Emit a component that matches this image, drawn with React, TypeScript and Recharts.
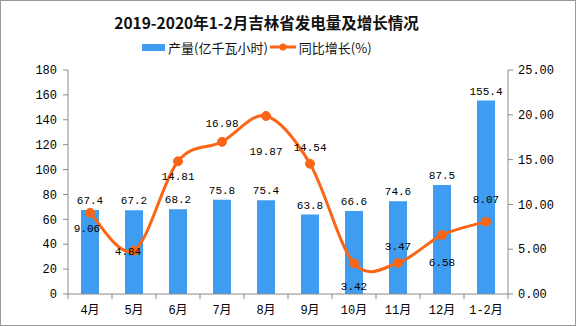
import React from "react";
import { ComposedChart, Bar, Line, XAxis, YAxis, LabelList } from "recharts";

const categories = ["4月", "5月", "6月", "7月", "8月", "9月", "10月", "11月", "12月", "1-2月"];
const output = [67.4, 67.2, 68.2, 75.8, 75.4, 63.8, 66.6, 74.6, 87.5, 155.4];
const growth = [9.06, 4.84, 14.81, 16.98, 19.87, 14.54, 3.42, 3.47, 6.58, 8.07];
const leftTicks = [0, 20, 40, 60, 80, 100, 120, 140, 160, 180];
const rightTicks = [0, 5, 10, 15, 20, 25];

const data = categories.map((c, i) => ({ name: c, output: output[i], growth: growth[i] }));

// label offsets (dx, dy) relative to each line point, in pixels
const growthLabelOffset: number[][] = [
  [-3, 16],
  [-6, 1],
  [0, 16],
  [0, -18],
  [0, 36],
  [0, -16],
  [0, 24],
  [0, -16],
  [0, 28],
  [0, -22],
];

const BAR = "#3e9df0";
const LINE = "#fb6516";
const AXIS = "#8a8a8a";
const NUMFONT = "'Liberation Mono', 'Noto Sans CJK SC', monospace";
const CJK = "'Noto Sans CJK SC', sans-serif";

// Cardinal (Catmull-Rom style) curve factory for a smooth line through points
const cardinalCurve = (context: any) => {
  let pts: number[][] = [];
  const k = 1 / 6;
  return {
    areaStart() {},
    areaEnd() {},
    lineStart() {
      pts = [];
    },
    point(x: number, y: number) {
      pts.push([+x, +y]);
    },
    lineEnd() {
      const n = pts.length;
      if (!n) return;
      context.moveTo(pts[0][0], pts[0][1]);
      for (let i = 0; i < n - 1; i++) {
        const p0 = pts[i - 1] || pts[i];
        const p1 = pts[i];
        const p2 = pts[i + 1];
        const p3 = pts[i + 2] || p2;
        context.bezierCurveTo(
          p1[0] + k * (p2[0] - p0[0]),
          p1[1] + k * (p2[1] - p0[1]),
          p2[0] - k * (p3[0] - p1[0]),
          p2[1] - k * (p3[1] - p1[1]),
          p2[0],
          p2[1]
        );
      }
    },
  };
};

const XTick = (props: any) => {
  const { x, y, payload, index } = props;
  const half = 22;
  return (
    <g>
      <line x1={x - half} y1={y - 8} x2={x - half} y2={y - 3} stroke={AXIS} />
      {index === categories.length - 1 && (
        <line x1={x + half} y1={y - 8} x2={x + half} y2={y - 3} stroke={AXIS} />
      )}
      <text x={x} y={y + 12} textAnchor="middle" fontSize={12} fontFamily={NUMFONT} fill="#000">
        {payload.value}
      </text>
    </g>
  );
};

const GrowthLabel = (props: any) => {
  const { x, y, value, index } = props;
  const [dx, dy] = growthLabelOffset[index];
  return (
    <text x={x + dx} y={y + dy} textAnchor="middle" dominantBaseline="central" fontSize={11} fontFamily={NUMFONT} fill="#000">
      {Number(value).toFixed(2)}
    </text>
  );
};

const BarLabel = (props: any) => {
  const { x, y, width, value } = props;
  return (
    <text x={x + width / 2} y={y - 9} textAnchor="middle" dominantBaseline="central" fontSize={11} fontFamily={NUMFONT} fill="#000">
      {value}
    </text>
  );
};

export default function App() {
  return (
    <div style={{ position: "fixed", left: 0, top: 0, width: 576, height: 326, background: "#fff" }}>
      <div style={{ position: "absolute", left: 0, top: 0, width: 574, height: 324, border: "1px solid #999" }} />
      <div style={{ position: "absolute", left: 0, top: 12, width: 533, textAlign: "center", fontFamily: CJK, fontWeight: "bold", fontSize: 15.5, lineHeight: "20px", color: "#111" }}>
        2019-2020年1-2月吉林省发电量及增长情况
      </div>
      <div style={{ position: "absolute", left: 142, top: 38, height: 18, display: "flex", alignItems: "center", fontFamily: CJK, fontSize: 13, color: "#111" }}>
        <div style={{ width: 23, height: 7, background: BAR, marginRight: 3 }} />
        <span>产量(亿千瓦小时)</span>
        <svg width={26} height={10} style={{ marginLeft: 2, marginRight: 3 }}>
          <line x1={0} y1={5} x2={26} y2={5} stroke={LINE} strokeWidth={3} />
          <circle cx={13} cy={5} r={3.5} fill={LINE} />
        </svg>
        <span>同比增长(%)</span>
      </div>
      <div style={{ position: "absolute", left: 0, top: 0 }}>
        <ComposedChart width={576} height={326} data={data} margin={{ top: 70, right: 0, left: 0, bottom: 0 }} barCategoryGap={13}>
          <XAxis
            dataKey="name"
            height={32}
            axisLine={{ stroke: AXIS }}
            tickLine={false}
            tick={<XTick />}
            interval={0}
          />
          <YAxis
            yAxisId="left"
            width={68}
            domain={[0, 180]}
            ticks={leftTicks}
            axisLine={{ stroke: AXIS }}
            tickLine={{ stroke: AXIS }}
            tickSize={5}
            tickMargin={6}
            tick={{ fontSize: 12, fontFamily: NUMFONT, fill: "#000" }}
            interval={0}
          />
          <YAxis
            yAxisId="right"
            orientation="right"
            width={68}
            domain={[0, 25]}
            ticks={rightTicks}
            tickFormatter={(v: number) => v.toFixed(2)}
            axisLine={{ stroke: AXIS }}
            tickLine={{ stroke: AXIS }}
            tickSize={5}
            tickMargin={5}
            tick={{ fontSize: 12, fontFamily: NUMFONT, fill: "#000" }}
            interval={0}
          />
          <Bar yAxisId="left" dataKey="output" fill={BAR} barSize={18} isAnimationActive={false}>
            <LabelList dataKey="output" content={<BarLabel />} />
          </Bar>
          <Line
            yAxisId="right"
            type={cardinalCurve as any}
            dataKey="growth"
            stroke={LINE}
            strokeWidth={3}
            dot={{ r: 4.5, fill: LINE, stroke: LINE, strokeWidth: 1 }}
            isAnimationActive={false}
          >
            <LabelList dataKey="growth" content={<GrowthLabel />} />
          </Line>
        </ComposedChart>
      </div>
    </div>
  );
}
